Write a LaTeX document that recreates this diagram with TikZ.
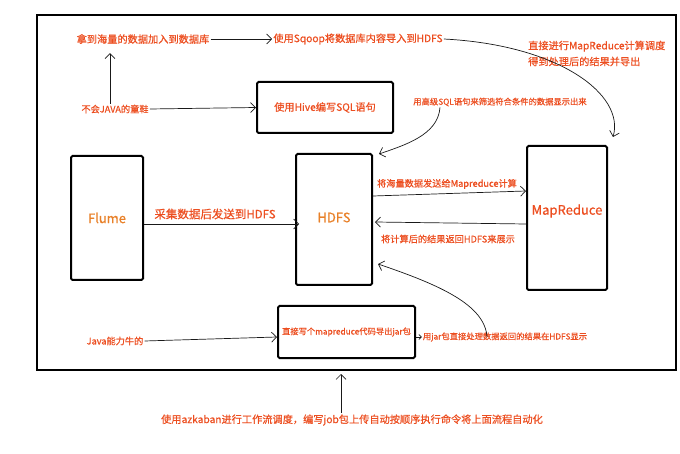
\documentclass[tikz,border=0pt]{standalone}
\usepackage{fontspec}
\setmainfont{Noto Sans CJK SC}[FakeBold=0.7]
\usetikzlibrary{arrows.meta}
\definecolor{txtred}{RGB}{236,78,32}
\definecolor{txtorange}{RGB}{232,128,40}
\begin{document}
\begin{tikzpicture}[x=1pt,y=-1pt,
  box/.style={draw,line width=2pt,rounded corners=1.5pt,inner sep=0pt},
  lbl/.style={text=txtred,font=\fontsize{10.2}{16}\selectfont,inner sep=1pt},
  small/.style={text=txtred,font=\fontsize{8.3}{10}\selectfont,inner sep=1pt},
  big/.style={font=\fontsize{13}{15}\selectfont},
  arr/.style={-{Straight Barb[length=5pt,width=10pt]},line width=0.7pt,draw=black!90}]
\useasboundingbox (0,0) rectangle (680,454);
% frame
\node[draw,line width=2pt,minimum width=639pt,minimum height=355pt,inner sep=0pt] (frame) at (356.5,192.5) {};
% boxes
\node[box,minimum width=136pt,minimum height=51pt] (hive) at (325,107.5) {};
\node[box,minimum width=72pt,minimum height=124pt] (flume) at (107,218) {};
\node[box,minimum width=76pt,minimum height=131pt] (hdfs) at (334,219.5) {};
\node[box,minimum width=80pt,minimum height=144pt] (mr) at (567,218) {};
\node[box,minimum width=137pt,minimum height=52pt] (jar) at (346.5,332) {};
% box labels
\node[lbl] (hivet) at (hive.center) {使用Hive编写SQL语句};
\node[big,text=txtorange] (flumet) at (flume.center) {Flume};
\node[big,text=txtorange] (hdfst) at ([yshift=2pt]hdfs.center) {HDFS};
\node[big,text=txtred] (mrt) at ([yshift=7pt]mr.center) {MapReduce};
\node[small] (jart) at (jar.center) {直接写个mapreduce代码导出jar包};
% free texts
\node[lbl] (t1) at (143,39) {拿到海量的数据加入到数据库};
\node[lbl] (t2) at (358,39) {使用Sqoop将数据库内容导入到HDFS};
\node[lbl,anchor=west,align=left] (t3) at (527,53.5) {直接进行MapReduce计算调度\\得到处理后的结果并导出};
\node[lbl,font=\fontsize{9.2}{11}\selectfont] (t4) at (115,109) {不会JAVA的童鞋};
\node[small] (t5) at (500,102) {用高级SQL语句来筛选符合条件的数据显示出来};
\node[lbl,font=\fontsize{11.5}{13}\selectfont] (t6) at (215,214) {采集数据后发送到HDFS};
\node[lbl,font=\fontsize{9.2}{11}\selectfont] (t7) at (447,184) {将海量数据发送给Mapreduce计算};
\node[lbl,font=\fontsize{9.2}{11}\selectfont] (t8) at (448,239) {将计算后的结果返回HDFS来展示};
\node[lbl,font=\fontsize{9.2}{11}\selectfont] (t9) at (115,341) {Java能力牛的};
\node[small] (t10) at (505,337) {用jar包直接处理数据返回的结果在HDFS显示};
\node[lbl] (t11) at (352,420) {使用azkaban进行工作流调度，编写job包上传自动按顺序执行命令将上面流程自动化};
% connectors
\draw[arr] (t1.east) -- (t2.west);
\draw[arr,shorten >=8pt] (t4.north -| 110,0) -- (t1.south -| 110,0);
\draw[arr] (t4.east) -- (hive.west);
\draw[arr] (t2.east) .. controls (560,45) and (625,95) .. ([shift={(5pt,8pt)}]mr.north east);
\draw[arr] (t5.south -| 440,0) .. controls (438,135) and (405,145) .. ([xshift=6pt,yshift=-1pt]hdfs.north east);
\draw[arr] ([yshift=-6pt]flume.east) -- ([yshift=-6pt,xshift=4pt]flume.east -| hdfs.west);
\draw[arr] ([yshift=23.5pt]hdfs.east) -- ([yshift=27pt]mr.west);
\draw[arr] ([yshift=-6pt]mr.west) -- ([yshift=-2.5pt,xshift=2pt]hdfs.east);
\draw[arr] ([xshift=-18pt]t10.center) .. controls (485,305) and (440,285) .. ([xshift=5pt,yshift=-44.5pt]hdfs.east);
\draw[arr,-{Straight Barb[length=2.5pt,width=5pt]}] ([yshift=-5pt]jar.east) -- (t10.west);
\draw[arr] (t9.east) -- ([yshift=-5pt]jar.west);
\draw[arr,shorten >=3pt] (t11.north -| 341,0) -- (frame.south -| 341,0);
\end{tikzpicture}
\end{document}
